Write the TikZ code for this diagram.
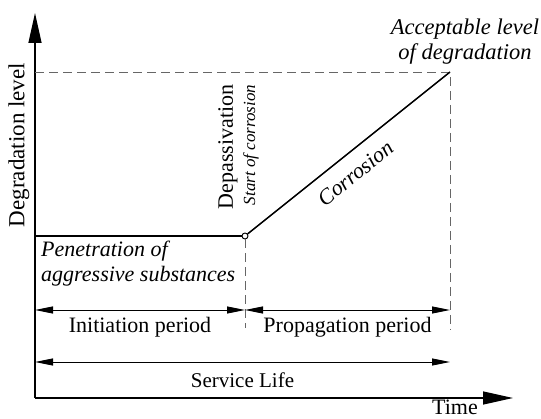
\documentclass[tikz,border=0pt]{standalone}
\usepackage{fontspec}
\setmainfont{Liberation Serif}
\usetikzlibrary{arrows.meta, positioning}

\begin{document}
\begin{tikzpicture}[x=1pt, y=-1pt,
axis/.style={line width=1.3pt, -{Triangle[length=30pt,width=13pt]}},
curve/.style={line width=1.5pt},
guide/.style={dash pattern=on 9pt off 5pt, gray!80!black, line width=0.8pt},
span/.style={line width=0.9pt, {Triangle[length=18pt,width=7pt]}-{Triangle[length=18pt,width=7pt]}},
lbl/.style={font=\fontsize{22}{24}\selectfont, inner sep=0pt},
note/.style={font=\fontsize{22}{25}\selectfont\itshape, inner sep=0pt}]

\useasboundingbox (0,0) rectangle (541,419);

% axes and key points
\coordinate (O)    at (35,398);
\coordinate (ytop) at (35,13);
\coordinate (xend) at (513,398);
\coordinate (lim)  at (450,72);
\coordinate (limB) at (450,330);
\coordinate (depB) at (245,328);

\draw[axis] (O) -- (ytop);
\draw[axis] (O) -- (xend);

% limit lines
\draw[guide] (O|-lim) -- (lim) -- (limB);

% degradation curve
\node[circle, draw, fill=white, line width=0.9pt, inner sep=0pt, minimum size=6pt] (dep) at (245,236) {};
\draw[guide] (dep) -- (depB);
\draw[curve] (O|-dep) -- (dep.west);
\draw[curve] (dep) -- node[note, sloped, below=12pt, pos=0.47] (corr) {Corrosion} (lim);

% periods
\coordinate (i0) at (35,310);
\coordinate (i1) at (245,310);
\coordinate (p1) at (450,310);
\coordinate (s0) at (35,362);
\coordinate (s1) at (450,362);

\draw[span] (i0) -- node[lbl, below=7pt] (ini) {Initiation period} (i1);
\draw[span] (i1) -- node[lbl, below=7pt] (prop) {Propagation period} (p1);
\draw[span] (s0) -- node[lbl, font=\fontsize{21}{24}\selectfont, below=10pt] (serv) {Service Life} (s1);

% labels
\node[lbl, font=\fontsize{23}{24}\selectfont, rotate=90] (ylab) at (19,145) {Degradation level};
\node[lbl, below=2pt of xend, xshift=-58pt] (time) {Time};
\node[lbl, rotate=90] (depas) at (228,147) {Depassivation};
\node[note, font=\fontsize{17}{20}\selectfont\itshape, rotate=90] (start) at (251,145) {Start of corrosion};
\node[note, align=left, anchor=west] (pen) at (41,264) {Penetration of\\aggressive substances};
\node[note, font=\fontsize{22.5}{25}\selectfont\itshape, align=center] (acc) at (465,42) {Acceptable level\\of degradation};

\end{tikzpicture}
\end{document}
